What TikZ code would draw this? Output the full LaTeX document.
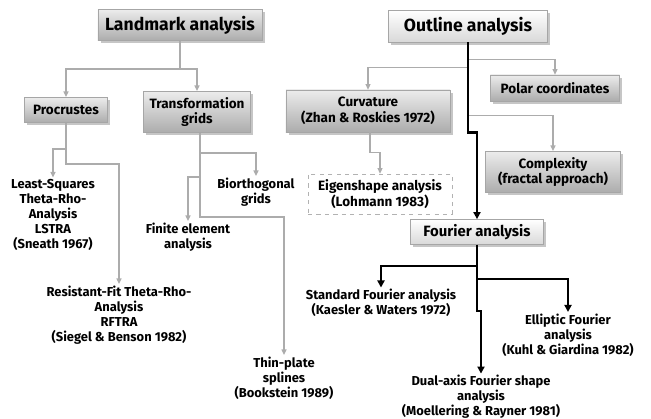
\documentclass[tikz,border=0pt]{standalone}
\usepackage{fontspec}
\setmainfont{Fira Sans}
\usepackage{tikz}
\usetikzlibrary{positioning, arrows.meta, shadows}

\begin{document}
\begin{tikzpicture}[
                x=0.025cm, y=-0.025cm,
                box/.style={rectangle, draw=gray!70, thin, align=center, inner sep=2pt,
                            font=\bfseries\fontsize{9.6}{11}\selectfont,
                            top color=gray!15, bottom color=gray!65,
                            drop shadow={opacity=0.45, shadow xshift=2pt, shadow yshift=-2pt}},
                headbox/.style={box, font=\bfseries\fontsize{12.5}{14}\selectfont},
                litebox/.style={box, top color=white, bottom color=gray!30},
                dashbox/.style={rectangle, draw=gray!60, dashed, align=center, inner sep=2pt,
                            font=\bfseries\fontsize{9.6}{11}\selectfont},
                leaf/.style={align=center, inner sep=1pt, font=\bfseries\fontsize{9.2}{10.7}\selectfont},
                garrow/.style={-{Triangle[length=4pt, width=3.5pt]}, gray!65, line width=1.1pt},
                karrow/.style={-{Triangle[length=5pt, width=5pt]}, black, line width=1.8pt}
            ]
                \useasboundingbox (0,0) rectangle (651,419);

                % --- LANDMARK ANALYSIS (LEFT) ---
                \node[headbox, minimum width=4.1cm, minimum height=0.78cm] (land) at (180,25) {Landmark analysis};
                \node[box, minimum width=2.08cm, minimum height=0.63cm] (proc) at (66,110) {Procrustes};
                \node[box, minimum width=2.68cm, minimum height=1.03cm] (trans) at (197,112) {Transformation\\grids};

                \node[leaf] (lstra) at (53,215) {Least-Squares\\Theta-Rho-\\Analysis\\LSTRA\\(Sneath 1967)};
                \node[leaf] (rftra) at (119,315) {Resistant-Fit Theta-Rho-\\Analysis\\RFTRA\\(Siegel \& Benson 1982)};
                \node[leaf] (bior) at (256,192) {Biorthogonal\\grids};
                \node[leaf] (fem) at (188,237) {Finite element\\analysis};
                \node[leaf] (tps) at (284,378) {Thin-plate\\splines\\(Bookstein 1989)};

                % --- OUTLINE ANALYSIS (RIGHT) ---
                \node[headbox, top color=white, bottom color=gray!30, minimum width=3.98cm, minimum height=0.8cm] (outl) at (468,26) {Outline analysis};
                \node[box, minimum width=4.1cm, minimum height=1.05cm] (curv) at (368,111) {Curvature\\(Zhan \& Roskies 1972)};
                \node[box, minimum width=3.23cm, minimum height=0.65cm] (polar) at (555,88) {Polar coordinates};
                \node[box, minimum width=3.38cm, minimum height=1.03cm] (cplx) at (553,172) {Complexity\\(fractal approach)};
                \node[dashbox, minimum width=3.6cm, minimum height=1.0cm] (eigen) at (380,194) {Eigenshape analysis\\(Lohmann 1983)};
                \node[litebox, font=\bfseries\fontsize{10.6}{13}\selectfont, minimum width=3.33cm, minimum height=0.63cm] (four) at (477,232) {Fourier analysis};

                \node[leaf] (std) at (381,303) {Standard Fourier analysis\\(Kaesler \& Waters 1972)};
                \node[leaf] (ellip) at (568,335) {Elliptic Fourier\\analysis\\(Kuhl \& Giardina 1982)};
                \node[leaf] (dual) at (481,397) {Dual-axis Fourier shape\\analysis\\(Moellering \& Rayner 1981)};

                % Arrows for landmark side
                \draw[garrow] (land.south) -- ++(0,28) -| (proc.north);
                \draw[garrow] (land.south) -- ++(0,28) -| (trans.north);
                \draw[garrow] (proc.south) -- ++(0,26) -| (lstra.north);
                \draw[garrow] (proc.south) -- ++(0,41) -| (rftra.north);
                \draw[garrow] ([xshift=0.075cm]trans.south) -- ++(0,20) -| (bior.north);
                \draw[garrow] ([xshift=0.075cm]trans.south) -- ++(0,44) -| (fem.north);
                \draw[garrow] ([xshift=0.075cm]trans.south) -- ++(0,84) -| (tps.north);

                % Arrows for outline side
                \draw[garrow] (outl.south) -- ++(0,25) -| (curv.north);
                \draw[garrow] (outl.south) -- ++(0,17) -| (polar.north);
                \draw[garrow] (outl.south) -- ++(0,73) -| (cplx.north);
                \draw[garrow] ([xshift=0.05cm]curv.south) -- ++(0,20) -| (eigen.north);
                \draw[karrow] (outl.south) -- ++(0,90) -| (four.north);
                \draw[karrow] (four.south) -- ++(0,21) -| (std.north);
                \draw[karrow] (four.south) -- ++(0,34) -| (ellip.north);
                \draw[karrow] (four.south) -- ++(0,66) -| (dual.north);

                \end{tikzpicture}
\end{document}
